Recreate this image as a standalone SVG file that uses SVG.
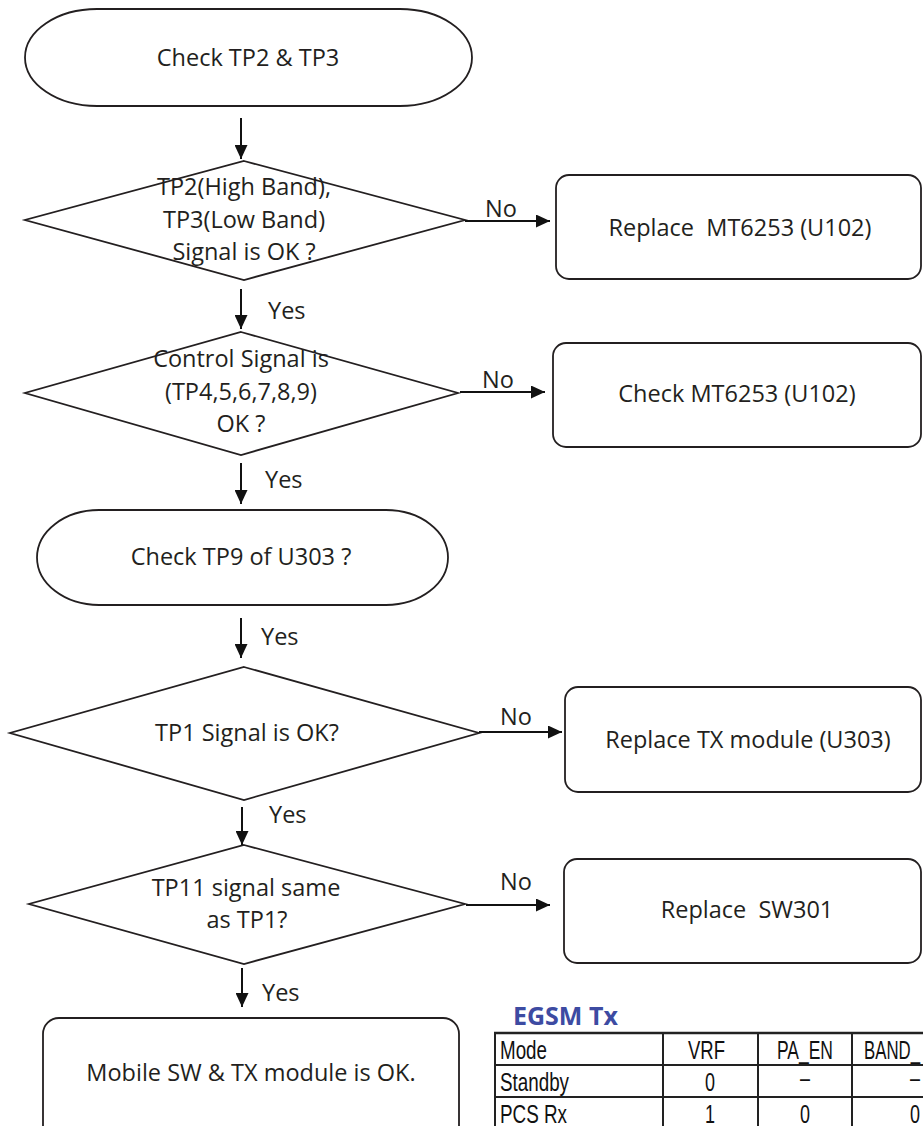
<svg xmlns="http://www.w3.org/2000/svg" width="923" height="1126" viewBox="0 0 923 1126">
<defs>
<marker id="ah" markerUnits="userSpaceOnUse" markerWidth="15" markerHeight="13" refX="14" refY="6.5" orient="auto">
<path d="M0,0 L14,6.5 L0,13 z" fill="#111"/>
</marker>
<style>
.shape{fill:#fff;stroke:#231f20;stroke-width:1.8}
.t{font-family:"Open Sans","Liberation Sans",sans-serif;font-size:23.5px;fill:#231f20;text-anchor:middle}
.lbl{font-family:"Open Sans","Liberation Sans",sans-serif;font-size:23.5px;fill:#231f20}
.c{stroke:#111;stroke-width:2;fill:none;marker-end:url(#ah)}
.tb{font-family:"Liberation Sans",Arial,sans-serif;font-size:25px;fill:#111}
.tl{stroke:#222;stroke-width:2;fill:none}
.title{font-family:"Open Sans","Liberation Sans",sans-serif;font-size:25px;font-weight:bold;fill:#3d4ba2}
</style>
</defs>
<rect width="923" height="1126" fill="#fff"/>

<g id="start">
<rect class="shape" x="25" y="9" width="447" height="97" rx="72" ry="48.5"/>
<text class="t" x="248" y="66">Check TP2 &amp; TP3</text>
</g>

<g id="d1">
<polygon class="shape" points="244,161 465,220 244,280 25,220"/>
<text class="t" x="244" y="195">TP2(High Band),</text>
<text class="t" x="244" y="228">TP3(Low Band)</text>
<text class="t" x="244" y="260">Signal is OK ?</text>
</g>

<g id="b1">
<rect class="shape" x="556" y="175" width="365" height="104" rx="13"/>
<text class="t" x="740" y="236" xml:space="preserve">Replace  MT6253 (U102)</text>
</g>

<g id="d2">
<polygon class="shape" points="241,332 458,393 241,455 25,393"/>
<text class="t" x="241" y="367">Control Signal is</text>
<text class="t" x="241" y="400">(TP4,5,6,7,8,9)</text>
<text class="t" x="241" y="432">OK ?</text>
</g>

<g id="b2">
<rect class="shape" x="553" y="343" width="368" height="104" rx="13"/>
<text class="t" x="737" y="402">Check MT6253 (U102)</text>
</g>

<g id="t2">
<rect class="shape" x="37" y="510" width="411" height="95" rx="62" ry="47.5"/>
<text class="t" x="241" y="565">Check TP9 of U303 ?</text>
</g>

<g id="d3">
<polygon class="shape" points="244,667 479,733 244,800 10,733"/>
<text class="t" x="247" y="741">TP1 Signal is OK?</text>
</g>

<g id="b3">
<rect class="shape" x="565" y="687" width="356" height="105" rx="13"/>
<text class="t" x="748" y="748">Replace TX module (U303)</text>
</g>

<g id="d4">
<polygon class="shape" points="244,845 465,904 244,964 29,904"/>
<text class="t" x="246" y="896">TP11 signal same</text>
<text class="t" x="247" y="928">as TP1?</text>
</g>

<g id="b4">
<rect class="shape" x="564" y="859" width="357" height="104" rx="13"/>
<text class="t" x="747" y="918" xml:space="preserve">Replace  SW301</text>
</g>

<g id="b5">
<rect class="shape" x="43" y="1018" width="416" height="130" rx="16"/>
<text class="t" x="251" y="1081">Mobile SW &amp; TX module is OK.</text>
</g>

<g id="connectors">
<line class="c" x1="241" y1="118" x2="241" y2="159"/>
<line class="c" x1="465" y1="221" x2="550" y2="221"/>
<line class="c" x1="241" y1="289" x2="241" y2="329"/>
<line class="c" x1="460" y1="392" x2="545" y2="392"/>
<line class="c" x1="241" y1="463" x2="241" y2="504"/>
<line class="c" x1="241" y1="618" x2="241" y2="658"/>
<line class="c" x1="479" y1="732" x2="562" y2="732"/>
<line class="c" x1="242" y1="807" x2="242" y2="845"/>
<line class="c" x1="466" y1="905" x2="550" y2="905"/>
<line class="c" x1="242" y1="968" x2="242" y2="1007"/>
<text class="lbl" x="485" y="217">No</text>
<text class="lbl" x="482" y="388">No</text>
<text class="lbl" x="500" y="725">No</text>
<text class="lbl" x="500" y="890">No</text>
<text class="lbl" x="268" y="319">Yes</text>
<text class="lbl" x="265" y="488">Yes</text>
<text class="lbl" x="261" y="645">Yes</text>
<text class="lbl" x="269" y="823">Yes</text>
<text class="lbl" x="262" y="1001">Yes</text>
</g>

<g id="table">
<text class="title" x="513" y="1025">EGSM Tx</text>
<line class="tl" x1="494" y1="1033" x2="923" y2="1033" style="stroke-width:2.6"/>
<line class="tl" x1="495" y1="1065" x2="923" y2="1065"/>
<line class="tl" x1="495" y1="1097" x2="923" y2="1097"/>
<line class="tl" x1="495" y1="1033" x2="495" y2="1126"/>
<line class="tl" x1="663" y1="1033" x2="663" y2="1126"/>
<line class="tl" x1="758" y1="1033" x2="758" y2="1126"/>
<line class="tl" x1="852" y1="1033" x2="852" y2="1126"/>
<text class="tb" x="500" y="1059" textLength="47" lengthAdjust="spacingAndGlyphs">Mode</text>
<text class="tb" x="688" y="1059" textLength="37" lengthAdjust="spacingAndGlyphs">VRF</text>
<text class="tb" x="777" y="1059" textLength="56" lengthAdjust="spacingAndGlyphs">PA_EN</text>
<text class="tb" x="864" y="1059" textLength="56" lengthAdjust="spacingAndGlyphs">BAND_</text>
<text class="tb" x="500" y="1091" textLength="69" lengthAdjust="spacingAndGlyphs">Standby</text>
<text class="tb" x="705" y="1091" textLength="10" lengthAdjust="spacingAndGlyphs">0</text>
<text class="tb" x="800" y="1087" textLength="10" lengthAdjust="spacingAndGlyphs">–</text>
<text class="tb" x="910" y="1087" textLength="10" lengthAdjust="spacingAndGlyphs">–</text>
<text class="tb" x="500" y="1123" textLength="67" lengthAdjust="spacingAndGlyphs">PCS Rx</text>
<text class="tb" x="705" y="1123" textLength="10" lengthAdjust="spacingAndGlyphs">1</text>
<text class="tb" x="800" y="1123" textLength="10" lengthAdjust="spacingAndGlyphs">0</text>
<text class="tb" x="910" y="1123" textLength="10" lengthAdjust="spacingAndGlyphs">0</text>
</g>
</svg>
